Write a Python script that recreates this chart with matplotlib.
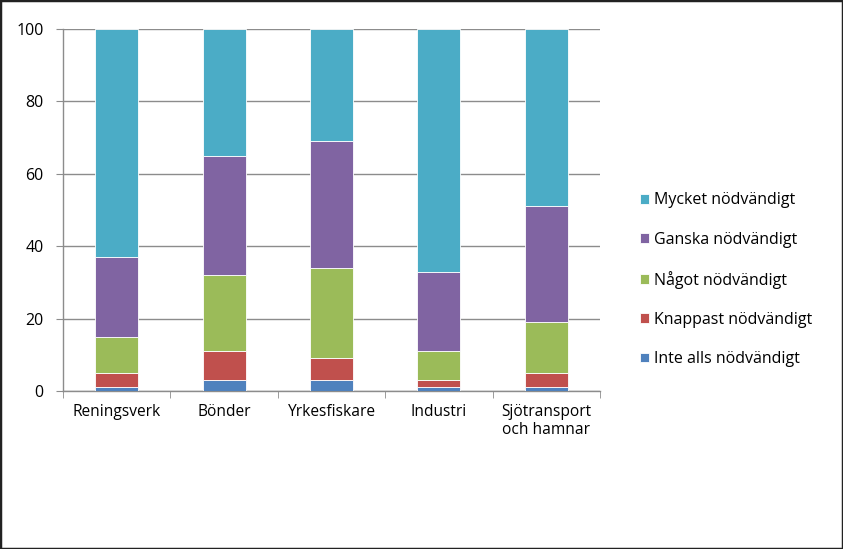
import matplotlib
matplotlib.use("Agg")
import matplotlib.pyplot as plt
import numpy as np
from matplotlib.patches import Rectangle

plt.rcParams['font.family'] = ['Open Sans', 'DejaVu Sans']

categories = ["Reningsverk", "Bönder", "Yrkesfiskare", "Industri", "Sjötransport\noch hamnar"]
series_names = ["Inte alls nödvändigt", "Knappast nödvändigt", "Något nödvändigt",
                "Ganska nödvändigt", "Mycket nödvändigt"]
inte_alls = [1, 3, 3, 1, 1]
knappast = [4, 8, 6, 2, 4]
nagot = [10, 21, 25, 8, 14]
ganska = [22, 33, 35, 22, 32]
mycket = [63, 35, 31, 67, 49]
colors = ["#4F81BD", "#C0504D", "#9BBB59", "#8064A2", "#4BACC6"]
yticks = [0, 20, 40, 60, 80, 100]

W, H = 843, 549
fig = plt.figure(figsize=(W / 100, H / 100), dpi=100)
ax = fig.add_axes([63 / W, 1 - 391 / H, (600 - 63) / W, (391 - 29) / H])

x = np.arange(len(categories))
bottom = np.zeros(len(categories))
handles = []
for vals, name, c in zip([inte_alls, knappast, nagot, ganska, mycket], series_names, colors):
    b = ax.bar(x, vals, 0.4, bottom=bottom, color=c, edgecolor="#ffffff", linewidth=0.6,
               label=name, zorder=3)
    handles.append(b)
    bottom += np.array(vals)

ax.set_xlim(-0.5, len(categories) - 0.5)
ax.set_ylim(0, 100)
ax.set_yticks(yticks)
ax.set_yticklabels([str(t) for t in yticks])
ax.yaxis.grid(True, color="#8c8c8c", linewidth=1.0, zorder=0)
ax.set_axisbelow(True)
for s in ["top", "right"]:
    ax.spines[s].set_visible(False)
for s in ["left", "bottom"]:
    ax.spines[s].set_color("#8c8c8c")
    ax.spines[s].set_linewidth(1.0)
ax.tick_params(axis="y", length=5, color="#8c8c8c", labelsize=11.5, pad=9)
ax.set_xticks(x)
ax.set_xticklabels(categories, fontsize=11.2)
ax.tick_params(axis="x", length=0, pad=9)
ax.set_xticks(np.arange(-0.5, len(categories), 1), minor=True)
ax.tick_params(axis="x", which="minor", length=5, color="#8c8c8c")

leg = fig.legend(handles[::-1], series_names[::-1], loc="upper left",
                 bbox_to_anchor=(634 / W, 1 - 186 / H), frameon=False, fontsize=11.5,
                 handlelength=0.55, handleheight=0.55, handletextpad=0.3,
                 labelspacing=1.45, borderaxespad=0)

fig.patches.append(Rectangle((0, 0), 1, 1, transform=fig.transFigure, fill=False,
                             edgecolor="#222222", linewidth=2.5))
fig.savefig("out.png", dpi=100)
